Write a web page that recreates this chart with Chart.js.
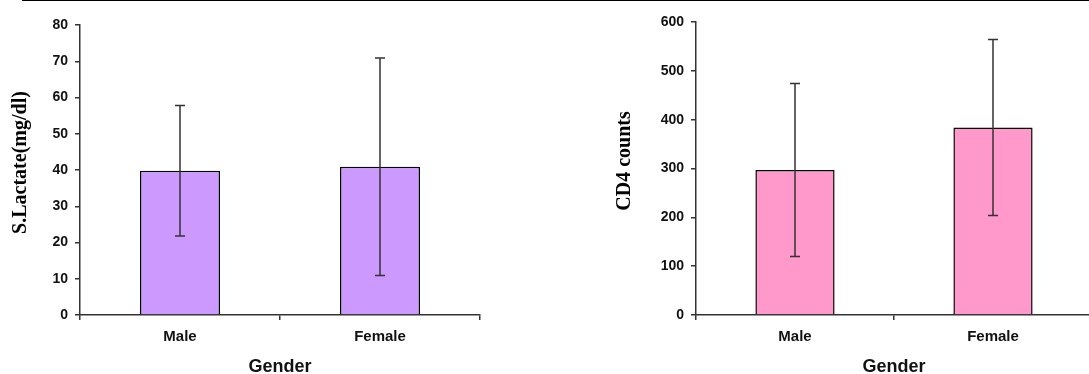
<!DOCTYPE html>
<html>
<head>
<meta charset="utf-8">
<script src="https://cdn.jsdelivr.net/npm/chart.js@4"></script>
<style>
  html, body { margin: 0; padding: 0; background: #fff; overflow: hidden; }
  body { width: 1089px; height: 374px; position: relative; }
  .topline { position: absolute; left: 22px; top: 0; width: 1067px; height: 1px; background: #000; }
  .box { position: absolute; top: 0; height: 374px; }
  #boxL { left: 0; width: 540px; }
  #boxR { left: 604px; width: 490px; }
</style>
</head>
<body>
<div class="topline"></div>
<div class="box" id="boxL"><canvas id="lactate"></canvas></div>
<div class="box" id="boxR"><canvas id="cd4"></canvas></div>
<script>
// data (mean and SD per gender)
const categories = ['Male', 'Female'];
const lactateMean = [39.8, 40.9];
const lactateSD = [18.0, 30.0];
const lactateTicks = [0, 80, 10];      // min, max, step
const cd4Mean = [297, 384];
const cd4SD = [177, 180];
const cd4Ticks = [0, 600, 100];

const AXIS = '#333333';

// Error bars drawn through the y scale
const errorBars = {
    id: 'errorBars',
    afterDatasetsDraw(chart, args, opts) {
        const ctx = chart.ctx;
        const y = chart.scales.y;
        chart.data.datasets.forEach((ds, di) => {
            const meta = chart.getDatasetMeta(di);
            meta.data.forEach((bar, i) => {
                const m = ds.data[i], sd = opts.sd[i];
                const yHi = y.getPixelForValue(m + sd);
                const yLo = y.getPixelForValue(m - sd);
                ctx.save();
                ctx.strokeStyle = AXIS;
                ctx.lineWidth = 1.5;
                ctx.beginPath();
                ctx.moveTo(bar.x, yHi); ctx.lineTo(bar.x, yLo);
                ctx.moveTo(bar.x - 5, yHi); ctx.lineTo(bar.x + 5, yHi);
                ctx.moveTo(bar.x - 5, yLo); ctx.lineTo(bar.x + 5, yLo);
                ctx.stroke();
                ctx.restore();
            });
        });
    }
};

const makeChart = (canvasId, values, sd, ticks, fill, yTitle, axisWidth, pad) => {
    const ctx = document.getElementById(canvasId).getContext('2d');
    return new Chart(ctx, {
        type: 'bar',
        data: {
            labels: categories,
            datasets: [{
                data: values,
                backgroundColor: fill,
                borderColor: '#000',
                borderWidth: 1.5,
                barPercentage: 0.4,
                categoryPercentage: 1
            }]
        },
        options: {
            animation: false,
            responsive: true,
            maintainAspectRatio: false,
            layout: { padding: pad },
            plugins: {
                legend: { display: false },
                tooltip: { enabled: false },
                errorBars: { sd: sd }
            },
            scales: {
                x: {
                    grid: { offset: true, drawOnChartArea: false, tickLength: 5, color: AXIS, lineWidth: 1.5 },
                    border: { color: AXIS, width: 1.5 },
                    ticks: { color: '#111', padding: 8, font: { family: 'Liberation Sans', size: 15, weight: 'bold' } },
                    title: {
                        display: true, text: 'Gender', color: '#111',
                        padding: { top: 0, bottom: 0 },
                        font: { family: 'Liberation Sans', size: 18, weight: 'bold', lineHeight: 0.8 }
                    },
                    afterFit: s => { s.height = 59; }
                },
                y: {
                    min: ticks[0], max: ticks[1],
                    grid: { drawOnChartArea: false, tickLength: 5, color: AXIS, lineWidth: 1.5 },
                    border: { color: AXIS, width: 1.5 },
                    ticks: { stepSize: ticks[2], color: '#111', padding: 7, font: { family: 'Liberation Sans', size: 14, weight: 'bold' } },
                    title: {
                        display: true, text: yTitle, color: '#000',
                        padding: { top: 11, bottom: 0 },
                        font: { family: 'Liberation Serif', size: 20, weight: 'bold', lineHeight: 1 }
                    },
                    afterFit: s => { s.width = axisWidth; }
                }
            }
        },
        plugins: [errorBars]
    });
};

makeChart('lactate', lactateMean, lactateSD, lactateTicks, '#CC99FF', '   S.Lactate(mg/dl)', 80,
    { top: 25, right: 60, bottom: 0, left: 0 });
makeChart('cd4', cd4Mean, cd4SD, cd4Ticks, '#FF99CC', '   CD4 counts', 92,
    { top: 22, right: 2, bottom: 0, left: 0 });
</script>
</body>
</html>
